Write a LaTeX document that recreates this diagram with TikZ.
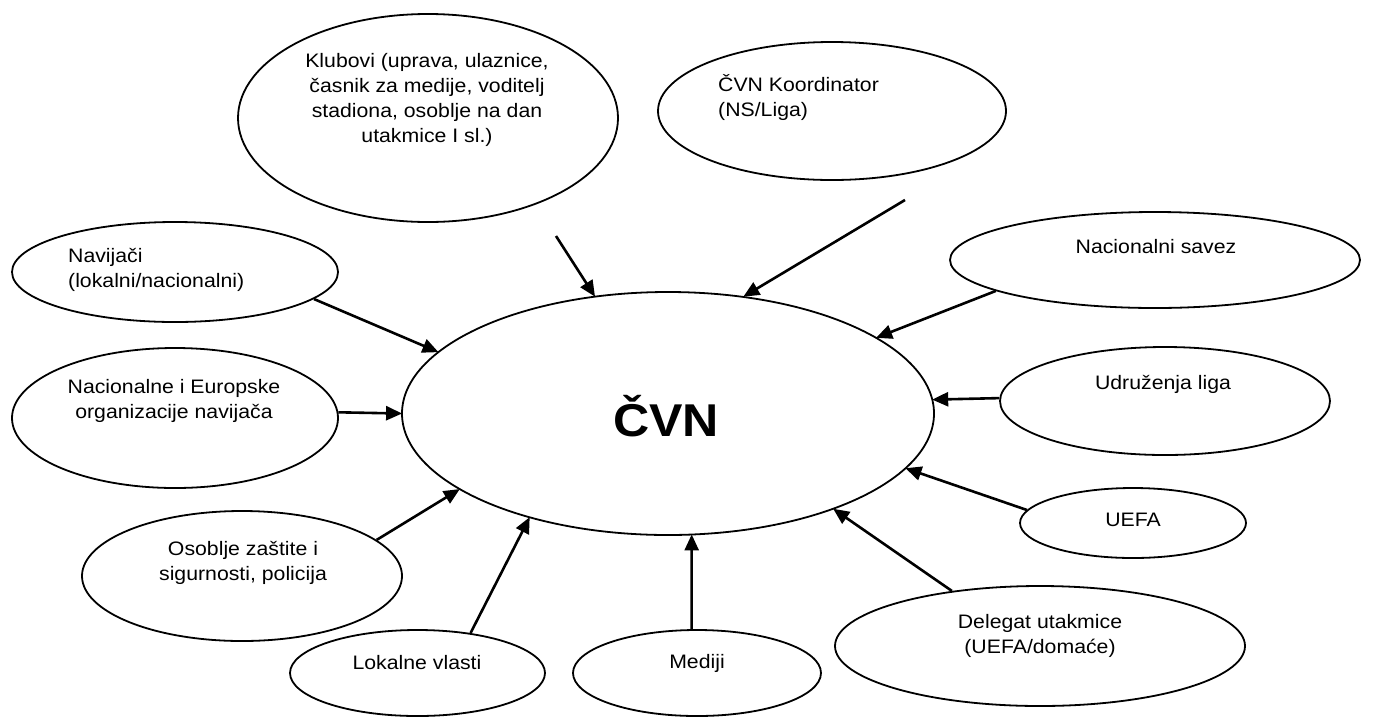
\documentclass[tikz,border=0pt]{standalone}
\usepackage{fontspec}
\setmainfont{Liberation Sans}[FakeStretch=1.09]
\usetikzlibrary{shapes.geometric,arrows.meta}
\tikzset{
  bubble/.style={draw, ellipse, line width=1.8pt, inner sep=0pt},
  lbl/.style={font=\fontsize{19.5}{25}\selectfont, inner sep=0pt},
  arr/.style={line width=2.6pt, -{Triangle[length=16pt,width=14pt]}, shorten >=-1pt}
}
\begin{document}
\begin{tikzpicture}[x=1pt,y=-1pt]
\useasboundingbox (0,0) rectangle (1376,716);
\begin{scope}
\clip (0,0) rectangle (1376,716);
% central
\node[bubble, minimum width=532pt, minimum height=243pt] (cvn) at (668,413.5) {};
\node[font=\fontsize{46}{50}\selectfont\bfseries, inner sep=0pt] (cvnt) at (666,416) {ČVN};
% satellites
\node[bubble, minimum width=380pt, minimum height=208pt] (klub) at (428,118) {};
\node[lbl, align=center] (klubt) at (427,100) {Klubovi (uprava, ulaznice,\\časnik za medije, voditelj\\stadiona, osoblje na dan\\utakmice I sl.)};
\node[bubble, minimum width=348pt, minimum height=138pt] (koord) at (832,111) {};
\node[lbl, align=left, anchor=west] (koordt) at (718,97) {ČVN Koordinator\\(NS/Liga)};
\node[bubble, minimum width=326pt, minimum height=100pt] (nav) at (175,272) {};
\node[lbl, align=left, anchor=west] (navt) at (68,270) {Navijači\\(lokalni/nacionalni)};
\node[bubble, minimum width=326pt, minimum height=140pt] (nac) at (175,418) {};
\node[lbl, align=center] (nact) at (174,401) {Nacionalne i Europske\\organizacije navijača};
\node[bubble, minimum width=320pt, minimum height=130pt] (oso) at (242,576) {};
\node[lbl, align=center] (osot) at (243,563) {Osoblje zaštite i\\sigurnosti, policija};
\node[bubble, minimum width=255pt, minimum height=86pt] (lok) at (417.5,673) {};
\node[lbl] (lokt) at (417,663) {Lokalne vlasti};
\node[bubble, minimum width=248pt, minimum height=86pt] (med) at (697,673) {};
\node[lbl] (medt) at (697,663) {Mediji};
\node[bubble, minimum width=410pt, minimum height=120pt] (del) at (1040,646) {};
\node[lbl, align=center] (delt) at (1040,636) {Delegat utakmice\\(UEFA/domaće)};
\node[bubble, minimum width=226pt, minimum height=70pt] (uefa) at (1133,523) {};
\node[lbl] (uefat) at (1133,520) {UEFA};
\node[bubble, minimum width=330pt, minimum height=108pt] (udr) at (1165,401) {};
\node[lbl] (udrt) at (1163,384) {Udruženja liga};
\node[bubble, minimum width=410pt, minimum height=96pt] (sav) at (1155,260) {};
\node[lbl] (savt) at (1156,247) {Nacionalni savez};
% free starts
\coordinate (klubs) at (556,236);
\coordinate (koords) at (905,200);
% connectors
\draw[arr] (klubs) -- (cvn.122.1);
\draw[arr] (koords) -- (cvn.57.2);
\draw[arr] (nav.-11.6) -- (cvn.165.2);
\draw[arr] (nac.2) -- (cvn.180);
\draw[arr] (oso.15.4) -- (cvn.200.8);
\draw[arr] (lok.37.2) -- (cvn.217.6);
\draw[arr] (med.97) -- (cvn.281.1);
\draw[arr] (del.148) -- (cvn.-30.2);
\draw[arr] (uefa.173.9) -- (cvn.-13.4);
\draw[arr] (udr.179.3) -- (cvn.3.2);
\draw[arr] (sav.191.7) -- (cvn.20.7);
\end{scope}
\end{tikzpicture}
\end{document}
